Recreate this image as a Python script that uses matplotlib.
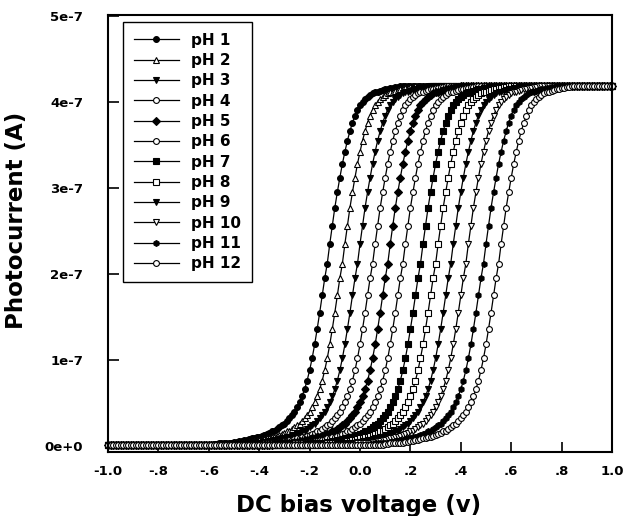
import numpy as np
import matplotlib
matplotlib.use("Agg")
import matplotlib.pyplot as plt

# pH labels and the voltage (V) where each curve crosses half of the plateau
ph_labels = ["pH 1", "pH 2", "pH 3", "pH 4", "pH 5", "pH 6",
             "pH 7", "pH 8", "pH 9", "pH 10", "pH 11", "pH 12"]
half_point_v = [-0.13, -0.07, -0.01, 0.05, 0.11, 0.17,
                0.24, 0.30, 0.36, 0.42, 0.49, 0.55]

# shared curve shape: photocurrent (1e-7 A) at offsets
# -0.45 .. +0.30 V from the half point, one value every 0.01 V
profile_current = [
    0.02, 0.02, 0.03, 0.03, 0.03, 0.04, 0.04, 0.04, 0.05, 0.05,
    0.06, 0.06, 0.07, 0.07, 0.08, 0.09, 0.09, 0.10, 0.11, 0.12,
    0.13, 0.14, 0.15, 0.17, 0.18, 0.20, 0.22, 0.24, 0.26, 0.29,
    0.32, 0.36, 0.40, 0.45, 0.51, 0.58, 0.66, 0.76, 0.88, 1.02,
    1.18, 1.36, 1.55, 1.75, 1.95, 2.12, 2.35, 2.56, 2.77, 2.95,
    3.12, 3.28, 3.42, 3.55, 3.66, 3.76, 3.84, 3.91, 3.96, 4.00,
    4.03, 4.06, 4.08, 4.10, 4.11, 4.12, 4.13, 4.14, 4.15, 4.15,
    4.16, 4.16, 4.17, 4.17, 4.18, 4.18]
profile_start = -45          # first entry is at -0.45 V
baseline = 0.01              # dark level (1e-7 A)
plateau = 4.18               # saturated level (1e-7 A)

# sweep -1.0 .. 1.0 V in 0.01 V steps
sweep_steps = np.arange(-100, 101)

# marker, filled?
markers = [("o", True), ("^", False), ("v", True), ("o", False),
           ("D", True), ("o", False), ("s", True), ("s", False),
           ("v", True), ("v", False), ("h", True), ("o", False)]

plt.rcParams["font.family"] = "DejaVu Sans"
plt.rcParams["font.weight"] = "bold"

fig = plt.figure(figsize=(6.41, 5.16), dpi=100)
ax = fig.add_axes([0.1685, 0.124, 0.7863, 0.847])

for label, mid, (m, filled) in zip(ph_labels, half_point_v, markers):
    mid_step = int(round(mid * 100))
    current = []
    for s in sweep_steps:
        i = s - mid_step - profile_start
        if i < 0:
            current.append(baseline)
        elif i >= len(profile_current):
            current.append(plateau)
        else:
            current.append(profile_current[i])
    x = sweep_steps / 100.0
    y = np.array(current) * 1e-7
    ax.plot(x, y, color="black", linewidth=0.9, marker=m,
            markersize=4.2 if m != "D" else 3.6, markeredgewidth=0.8,
            markerfacecolor="black" if filled else "white",
            markeredgecolor="black", label=label, clip_on=False)

ax.set_xlim(-1.0, 1.0)
ax.set_ylim(-0.07e-7, 5.01e-7)

xt = [-1.0, -0.8, -0.6, -0.4, -0.2, 0.0, 0.2, 0.4, 0.6, 0.8, 1.0]
xt_labels = ["-1.0", "-.8", "-.6", "-.4", "-.2", "0.0", ".2", ".4", ".6", ".8", "1.0"]
yt = [0, 1e-7, 2e-7, 3e-7, 4e-7, 5e-7]
yt_labels = ["0e+0", "1e-7", "2e-7", "3e-7", "4e-7", "5e-7"]
ax.set_xticks(xt)
ax.set_xticklabels(xt_labels, fontsize=9.5, fontweight="bold")
ax.set_yticks(yt)
ax.set_yticklabels(yt_labels, fontsize=9.5, fontweight="bold")
ax.tick_params(axis="x", direction="in", length=7, width=1.2, pad=9)
ax.tick_params(axis="y", direction="in", length=8, width=1.2, pad=18)

for sp in ax.spines.values():
    sp.set_linewidth(1.5)

ax.set_xlabel("DC bias voltage (v)", fontsize=16.5, fontweight="bold")
ax.set_ylabel("Photocurrent (A)", fontsize=16.5, fontweight="bold")
ax.xaxis.set_label_coords(0.497, -0.095)
ax.yaxis.set_label_coords(-0.159, 0.529)

leg = ax.legend(loc="upper left", bbox_to_anchor=(0.0298, 0.984), borderaxespad=0,
                fancybox=False, edgecolor="black", framealpha=1,
                prop={"size": 11, "weight": "bold"}, handlelength=2.95,
                labelspacing=0.35, handletextpad=0.8, borderpad=0.7)
leg.get_frame().set_linewidth(1.0)

plt.savefig("out.png", dpi=100)
